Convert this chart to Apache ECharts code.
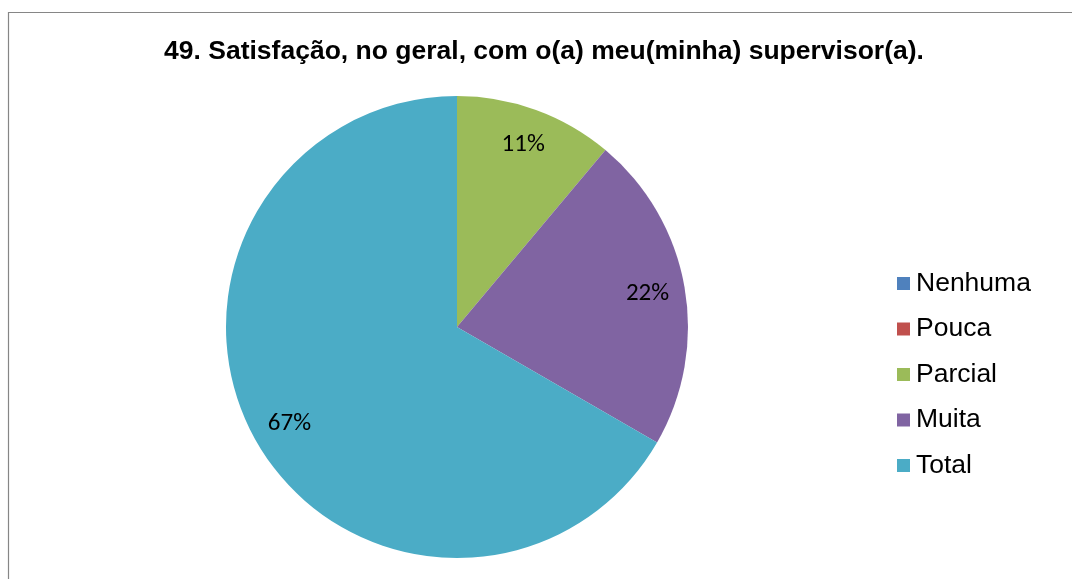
<!DOCTYPE html>
<html>
<head>
<meta charset="utf-8">
<script src="https://cdn.jsdelivr.net/npm/echarts@6/dist/echarts.min.js"></script>
<style>
html,body{margin:0;padding:0;background:#fff;}
#chart{width:1072px;height:579px;}
</style>
</head>
<body>
<div id="chart"></div>
<script>
const titleText = '49. Satisfação, no geral, com o(a) meu(minha) supervisor(a).';
const categories = ['Nenhuma', 'Pouca', 'Parcial', 'Muita', 'Total'];
const values = [0, 0, 1, 2, 6];
const colors = ['#4F81BD', '#C0504D', '#9BBB59', '#8064A2', '#4BACC6'];

const total = values.reduce((a, b) => a + b, 0);
const data = categories.map((c, i) => ({ name: c, value: values[i], itemStyle: { color: colors[i] } }));
const labelData = categories.map((c, i) => ({ name: c, value: values[i], itemStyle: { color: 'rgba(0,0,0,0)' } }));

const chart = echarts.init(document.getElementById('chart'), null, { renderer: 'canvas' });
chart.setOption({
  backgroundColor: '#ffffff',
  animation: false,
  color: colors,
  title: {
    text: titleText,
    left: 544,
    textAlign: 'center',
    top: 38,
    padding: 0,
    textStyle: { fontFamily: 'Liberation Sans, Arial, sans-serif', fontWeight: 'bold', fontSize: 26.5, color: '#000' }
  },
  graphic: [{
    type: 'rect',
    shape: { x: 8.5, y: 12.5, width: 2000, height: 2000 },
    style: { fill: 'none', stroke: '#868686', lineWidth: 1.2 },
    silent: true
  }],
  legend: {
    orient: 'vertical',
    left: 897,
    top: 270,
    padding: 0,
    itemWidth: 13,
    itemHeight: 13,
    itemGap: 18.5,
    icon: 'rect',
    data: categories,
    textStyle: { fontFamily: 'Liberation Sans, Arial, sans-serif', fontSize: 26.5, color: '#000', lineHeight: 26, padding: [0, 0, 0, 1] },
    selectedMode: false
  },
  series: [
    {
      type: 'pie',
      center: [457, 327],
      radius: [0, 231],
      startAngle: 90,
      clockwise: true,
      silent: true,
      label: { show: false },
      labelLine: { show: false },
      itemStyle: { borderWidth: 0 },
      data: data
    },
    {
      type: 'pie',
      center: [457, 327],
      radius: [150, 231],
      startAngle: 90,
      clockwise: true,
      silent: true,
      legendHoverLink: false,
      label: {
        show: true,
        position: 'inside',
        fontFamily: 'Carlito, Open Sans, Noto Sans, sans-serif',
        fontSize: 25,
        color: '#000',
        formatter: p => p.value === 0 ? '' : Math.round(p.value / total * 100) + '%'
      },
      labelLine: { show: false },
      itemStyle: { borderWidth: 0 },
      data: labelData
    }
  ]
});
</script>
</body>
</html>
